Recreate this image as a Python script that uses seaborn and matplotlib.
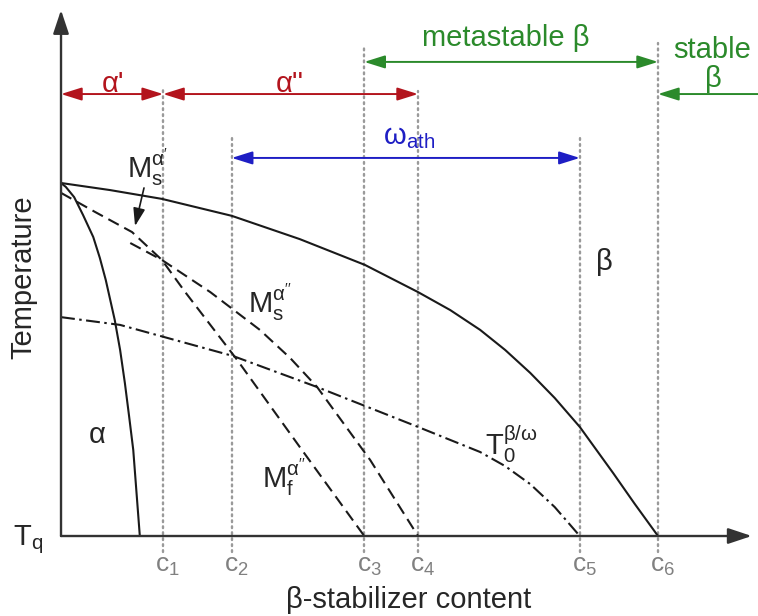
import matplotlib
matplotlib.use("Agg")
import matplotlib.pyplot as plt
from matplotlib.patches import FancyArrowPatch
import numpy as np
import pandas as pd
import seaborn as sns

# ---- data (composition normalised to c6, temperature normalised to the beta transus at x=0)
c_values = [0.171, 0.286, 0.508, 0.598, 0.869, 1.0]
c_labels = [r"$\mathregular{c_1}$", r"$\mathregular{c_2}$", r"$\mathregular{c_3}$",
            r"$\mathregular{c_4}$", r"$\mathregular{c_5}$", r"$\mathregular{c_6}$"]
c_tops = [1.269, 1.127, 1.391, 1.261, 1.127, 1.397]

beta_transus_x = [0.0, 0.082, 0.169, 0.286, 0.400, 0.509, 0.598, 0.652, 0.702,
                  0.744, 0.786, 0.827, 0.869, 0.925, 0.961, 1.0]
beta_transus_y = [1.0, 0.980, 0.955, 0.907, 0.841, 0.768, 0.691, 0.640, 0.584,
                  0.527, 0.462, 0.391, 0.309, 0.178, 0.091, 0.0]

alpha_x = [0.0, 0.008, 0.022, 0.037, 0.054, 0.065, 0.075, 0.090, 0.099, 0.107,
           0.114, 0.121, 0.132]
alpha_y = [1.0, 0.989, 0.960, 0.909, 0.847, 0.788, 0.725, 0.612, 0.527, 0.433,
           0.340, 0.244, 0.0]

ms_alpha1_mf_x = [0.0, 0.057, 0.119, 0.169, 0.208, 0.295, 0.400, 0.508]
ms_alpha1_mf_y = [0.972, 0.918, 0.861, 0.782, 0.691, 0.499, 0.252, 0.0]

ms_alpha2_x = [0.116, 0.169, 0.250, 0.333, 0.384, 0.429, 0.518, 0.598]
ms_alpha2_y = [0.830, 0.782, 0.691, 0.584, 0.504, 0.422, 0.215, 0.0]

t0_x = [0.0, 0.099, 0.288, 0.429, 0.598, 0.702, 0.744, 0.786, 0.827, 0.869]
t0_y = [0.620, 0.598, 0.510, 0.422, 0.309, 0.238, 0.198, 0.147, 0.082, 0.0]

# composition ranges (index into c_values, None = axis start)
ranges = {
    "alpha1": (None, 0),
    "alpha2": (0, 3),
    "metastable": (2, 5),
    "omega": (1, 4),
}

# ---- style
sns.set_theme(style="white")
plt.rcParams["font.family"] = ["Liberation Sans", "DejaVu Sans"]
plt.rcParams["mathtext.fontset"] = "custom"
plt.rcParams["mathtext.rm"] = "Liberation Sans"
plt.rcParams["mathtext.it"] = "Liberation Sans:italic"
plt.rcParams["mathtext.bf"] = "Liberation Sans:bold"
plt.rcParams["lines.scale_dashes"] = False

RED = "#b3141d"
GREEN = "#2b8a2b"
BLUE = "#1e1ec4"
DOT = "#9a9a9a"
AXC = "#333333"
FS = 21

fig = plt.figure(figsize=(7.58, 6.16), dpi=100)
ax = fig.add_axes([0, 0, 1, 1])
ax.set_xlim(-0.1022, 1.1675)
ax.set_ylim(-0.2266, 1.5184)
ax.axis("off")

# composition guide lines
for c, top in zip(c_values, c_tops):
    ax.plot([c, c], [-0.045, top], color=DOT, lw=1.7, linestyle=(0, (1.3, 3.0)),
            solid_capstyle="round", dash_capstyle="round", zorder=1)
for c, lab in zip(c_values, c_labels):
    ax.text(c + 0.008, -0.102, lab, color="#808080", fontsize=19,
            ha="center", va="baseline")

# phase boundaries
curves = [
    (beta_transus_x, beta_transus_y, "-"),
    (alpha_x, alpha_y, "-"),
    (ms_alpha1_mf_x, ms_alpha1_mf_y, (0, (8.5, 4.5))),
    (ms_alpha2_x, ms_alpha2_y, (0, (8.5, 4.5))),
    (t0_x, t0_y, (0, (10, 3.2, 1.8, 3.2))),
]
for xs, ys, ls in curves:
    df = pd.DataFrame({"x": xs, "y": ys})
    sns.lineplot(data=df, x="x", y="y", ax=ax, sort=False, estimator=None,
                 color="#1a1a1a", lw=1.5, linestyle=ls, zorder=3)

def arrow(x0, y0, x1, y1, color, style="-|>", lw=1.4, z=4, hl=1.1, hw=0.36):
    p = FancyArrowPatch((x0, y0), (x1, y1),
                        arrowstyle=f"{style},head_length={hl},head_width={hw}",
                        mutation_scale=12, color=color, lw=lw,
                        shrinkA=0, shrinkB=0, zorder=z)
    ax.add_patch(p)

# axes with arrow heads
arrow(0, 0, 0, 1.49, AXC, lw=1.7, hl=1.2, hw=0.4)
arrow(0, 0, 1.157, 0, AXC, lw=1.7, hl=1.2, hw=0.4)

# phase-range arrows
def cx(i):
    return 0.0 if i is None else c_values[i]

y_red, y_green, y_blue = 1.252, 1.343, 1.071
a, b = ranges["alpha1"]
arrow(cx(a), y_red, cx(b), y_red, RED, style="<|-|>", hw=0.33, hl=1.05)
a, b = ranges["alpha2"]
arrow(cx(a), y_red, cx(b), y_red, RED, style="<|-|>", hw=0.33, hl=1.05)
a, b = ranges["metastable"]
arrow(cx(a), y_green, cx(b), y_green, GREEN, style="<|-|>", hw=0.33, hl=1.05)
arrow(1.18, y_red, c_values[5], y_red, GREEN, style="-|>", hw=0.33, hl=1.05)
a, b = ranges["omega"]
arrow(cx(a), y_blue, cx(b), y_blue, BLUE, style="<|-|>", hw=0.33, hl=1.05)

ax.text(0.087, 1.258, "\u03b1'", color=RED, fontsize=FS, ha="center", va="baseline")
ax.text(0.384, 1.258, "\u03b1''", color=RED, fontsize=FS, ha="center", va="baseline")
ax.text(0.605, 1.388, "metastable \u03b2", color=GREEN, fontsize=FS, ha="left", va="baseline")
ax.text(1.090, 1.354, "stable", color=GREEN, fontsize=FS, ha="center", va="baseline")
ax.text(1.092, 1.295, "\u03b2", color=GREEN, fontsize=FS, ha="center", va="center")
ax.text(0.539, 1.110, r"$\mathregular{\omega_{ath}}$", color=BLUE, fontsize=FS,
        ha="left", va="baseline")

# curve and region labels
ax.text(0.1106, 1.014, r"$\mathregular{M_s^{\alpha'}}$", fontsize=FS, ha="left", va="baseline")
ax.annotate("", xy=(0.124, 0.878), xytext=(0.139, 0.986),
            arrowprops=dict(arrowstyle="-|>,head_length=0.9,head_width=0.3",
                            mutation_scale=12, color="#1a1a1a", lw=1.2,
                            shrinkA=0, shrinkB=0))
ax.text(0.313, 0.632, r"$\mathregular{M_s^{\alpha''}}$", fontsize=FS, ha="left", va="baseline")
ax.text(0.337, 0.136, r"$\mathregular{M_f^{\alpha''}}$", fontsize=FS, ha="left", va="baseline")
ax.text(0.710, 0.229, r"$\mathregular{T_0^{\beta/\omega}}$", fontsize=FS, ha="left", va="baseline")
ax.text(0.060, 0.286, "\u03b1", fontsize=FS, ha="center", va="center")
ax.text(0.911, 0.776, "\u03b2", fontsize=FS, ha="center", va="center")
ax.text(-0.080, -0.025, r"$\mathregular{T_q}$", fontsize=FS, ha="left", va="baseline")

ax.text(-0.0637, 0.734, "Temperature", fontsize=FS, rotation=90, ha="center", va="center")
ax.text(0.583, -0.181, "\u03b2-stabilizer content", fontsize=FS, ha="center", va="center")

fig.savefig("out.png", dpi=100, facecolor="white")
